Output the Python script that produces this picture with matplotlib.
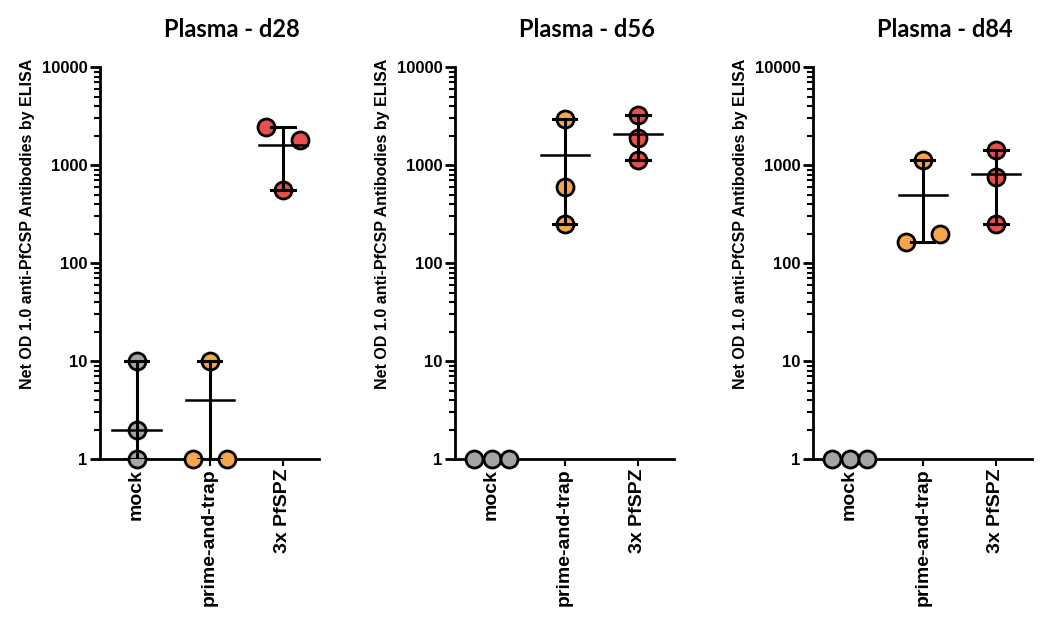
import matplotlib
matplotlib.use("Agg")
import matplotlib.pyplot as plt
import numpy as np

groups = ["mock", "prime-and-trap", "3x PfSPZ"]
titles = ["Plasma - d28", "Plasma - d56", "Plasma - d84"]
colors = ["#a5a5a5", "#f5a54a", "#e8504c"]

# individual animals, per panel and group
values = [
    [[10, 2, 1], [10, 1, 1], [2460, 1800, 560]],
    [[1, 1, 1], [2950, 605, 253], [3230, 1890, 1137]],
    [[1, 1, 1], [1137, 165, 197], [1437, 752, 249]],
]
# horizontal jitter of each point (category units)
offsets = [
    [[0, 0, 0], [0, -0.23, 0.23], [-0.23, 0.23, 0]],
    [[-0.24, 0, 0.24], [0, 0, 0], [0, 0, 0]],
    [[-0.24, 0, 0.24], [0, -0.23, 0.23], [0, 0, 0]],
]
# centre line (mean)
centers = [
    [2, 4, 1600],
    [1, 1265, 2075],
    [1, 500, 813],
]

plt.rcParams["font.family"] = "Liberation Sans"
plt.rcParams["font.weight"] = "bold"

fig = plt.figure(figsize=(10.5, 6.22), dpi=100)
lefts = [0.0952, 0.4333, 0.7743]
axes = [fig.add_axes([l, 0.262, 0.209, 0.630]) for l in lefts]

for p, ax in enumerate(axes):
    for g in range(3):
        vals = np.array(values[p][g], dtype=float)
        xs = g + np.array(offsets[p][g])
        ax.scatter(xs, vals, s=150, color=colors[g], edgecolor="black",
                   linewidth=2, zorder=3, clip_on=False)
        lo, hi = vals.min(), vals.max()
        if hi > lo:
            ax.plot([g, g], [lo, hi], color="black", lw=2.2, zorder=4)
            ax.plot([g - 0.16, g + 0.16], [hi, hi], color="black", lw=2.2, zorder=4)
            ax.plot([g - 0.16, g + 0.16], [lo, lo], color="black", lw=2.2, zorder=4)
            ax.plot([g - 0.33, g + 0.33], [centers[p][g]] * 2, color="black", lw=1.8, zorder=4)
    ax.set_yscale("log")
    ax.set_ylim(1, 10000)
    ax.set_xlim(-0.5, 2.5)
    ax.set_yticks([1, 10, 100, 1000, 10000])
    ax.set_yticklabels(["1", "10", "100", "1000", "10000"], fontsize=12, fontweight="bold")
    ax.yaxis.set_minor_locator(matplotlib.ticker.LogLocator(base=10, subs=np.arange(2, 10)))
    ax.yaxis.set_minor_formatter(matplotlib.ticker.NullFormatter())
    ax.set_xticks(range(3))
    ax.set_xticklabels(groups, rotation=90, fontsize=14, fontweight="bold")
    ax.tick_params(axis="y", which="major", length=7, width=2, pad=2)
    ax.tick_params(axis="y", which="minor", length=4, width=1.5)
    ax.tick_params(axis="x", length=5, width=1.5, pad=2)
    for side in ["top", "right"]:
        ax.spines[side].set_visible(False)
    for side in ["left", "bottom"]:
        ax.spines[side].set_linewidth(2)
    ax.set_ylabel("Net OD 1.0 anti-PfCSP Antibodies by ELISA", fontsize=11.5,
                  fontweight="bold", labelpad=8)
    ax.yaxis.set_label_coords(-0.295, 0.6)
    ax.text(0.6, 1.095, titles[p], transform=ax.transAxes, ha="center", va="center",
            fontsize=17, fontweight="bold", family=["Lato", "DejaVu Sans"])

fig.savefig("out.png", dpi=100)
